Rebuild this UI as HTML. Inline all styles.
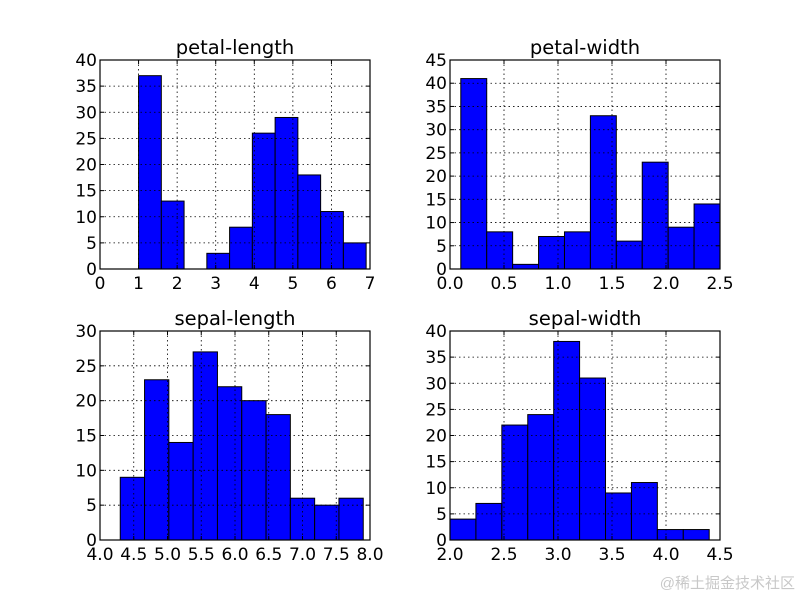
<!DOCTYPE html>
<html><head><meta charset="utf-8"><style>
body{margin:0;background:#fff;}
svg{display:block;font-family:"DejaVu Sans","Liberation Sans",sans-serif;}
</style></head><body>
<svg id="chart" width="800" height="600" xmlns="http://www.w3.org/2000/svg">
<rect width="800" height="600" fill="#fff"/>
<text x="795" y="588" text-anchor="end" font-size="15" fill="#c8c8c8" font-family="'Liberation Sans','Noto Sans CJK SC',sans-serif">@稀土掘金技术社区</text>
</svg>
<script>
const titles = ["petal-length","petal-width","sepal-length","sepal-width"];
const mins = [1.0, 0.1, 4.3, 2.0];
const maxs = [6.9, 2.5, 7.9, 4.4];
const countsPL = [37,13,0,3,8,26,29,18,11,5];
const countsPW = [41,8,1,7,8,33,6,23,9,14];
const countsSL = [9,23,14,27,22,20,18,6,5,6];
const countsSW = [4,7,22,24,38,31,9,11,2,2];
const xTicks = [[0,1,2,3,4,5,6,7],[0,0.5,1,1.5,2,2.5],[4,4.5,5,5.5,6,6.5,7,7.5,8],[2,2.5,3,3.5,4,4.5]];
const xTickLabels = [["0","1","2","3","4","5","6","7"],["0.0","0.5","1.0","1.5","2.0","2.5"],["4.0","4.5","5.0","5.5","6.0","6.5","7.0","7.5","8.0"],["2.0","2.5","3.0","3.5","4.0","4.5"]];
const yTicks = [[0,5,10,15,20,25,30,35,40],[0,5,10,15,20,25,30,35,40,45],[0,5,10,15,20,25,30],[0,5,10,15,20,25,30,35,40]];
const allCounts = [countsPL,countsPW,countsSL,countsSW];
const NS="http://www.w3.org/2000/svg";
const svg=document.getElementById('chart');
const boxes=[[100,60],[450,60],[100,331],[450,331]];
const W=270,H=209;
function mk(tag,attrs,parent){const e=document.createElementNS(NS,tag);for(const k in attrs)e.setAttribute(k,attrs[k]);(parent||svg).appendChild(e);return e;}
for(let i=0;i<4;i++){
  const [x0,y0]=boxes[i];
  const xt=xTicks[i], yt=yTicks[i];
  const xmin=xt[0], xmax=xt[xt.length-1], ymax=yt[yt.length-1];
  const sx=v=>x0+(v-xmin)/(xmax-xmin)*W;
  const sy=v=>y0+H-v/ymax*H;
  const g=mk('g',{});
  
  
  const bw=(maxs[i]-mins[i])/allCounts[i].length;
  allCounts[i].forEach((c,j)=>{
    const a=mins[i]+j*bw;
    const r=mk('rect',{x:sx(a),y:sy(c),width:sx(a+bw)-sx(a),height:sy(0)-sy(c),fill:'#0000ff',stroke:'#000','stroke-width':1},g);
    
    
  });
  xt.forEach((v,k)=>{
    const X=sx(v);
    if(k>0&&k<xt.length-1) mk('line',{x1:X,x2:X,y1:y0,y2:y0+H,stroke:'#000','stroke-width':0.8,'stroke-dasharray':'1.5,3'},g);
    mk('line',{x1:X,x2:X,y1:y0+H,y2:y0+H-4,stroke:'#000'},g);
    mk('line',{x1:X,x2:X,y1:y0,y2:y0+4,stroke:'#000'},g);
    const t=mk('text',{x:X,y:y0+H+20,'text-anchor':'middle','font-size':17},g);
    t.textContent=xTickLabels[i][k];
    
    
  });
  yt.forEach((v,k)=>{
    const Y=sy(v);
    if(k>0&&k<yt.length-1) mk('line',{x1:x0,x2:x0+W,y1:Y,y2:Y,stroke:'#000','stroke-width':0.8,'stroke-dasharray':'1.5,3'},g);
    mk('line',{x1:x0,x2:x0+4,y1:Y,y2:Y,stroke:'#000'},g);
    mk('line',{x1:x0+W,x2:x0+W-4,y1:Y,y2:Y,stroke:'#000'},g);
    const t=mk('text',{x:x0-3,y:Y+6,'text-anchor':'end','font-size':17},g);
    t.textContent=String(v);
    
    
  });
  mk('rect',{x:x0,y:y0,width:W,height:H,fill:'none',stroke:'#000','stroke-width':1.2},g);
  const tt=mk('text',{x:x0+W/2,y:y0-6,'text-anchor':'middle','font-size':19.5},g);
  tt.textContent=titles[i];
  
  
}
</script>
</body></html>
